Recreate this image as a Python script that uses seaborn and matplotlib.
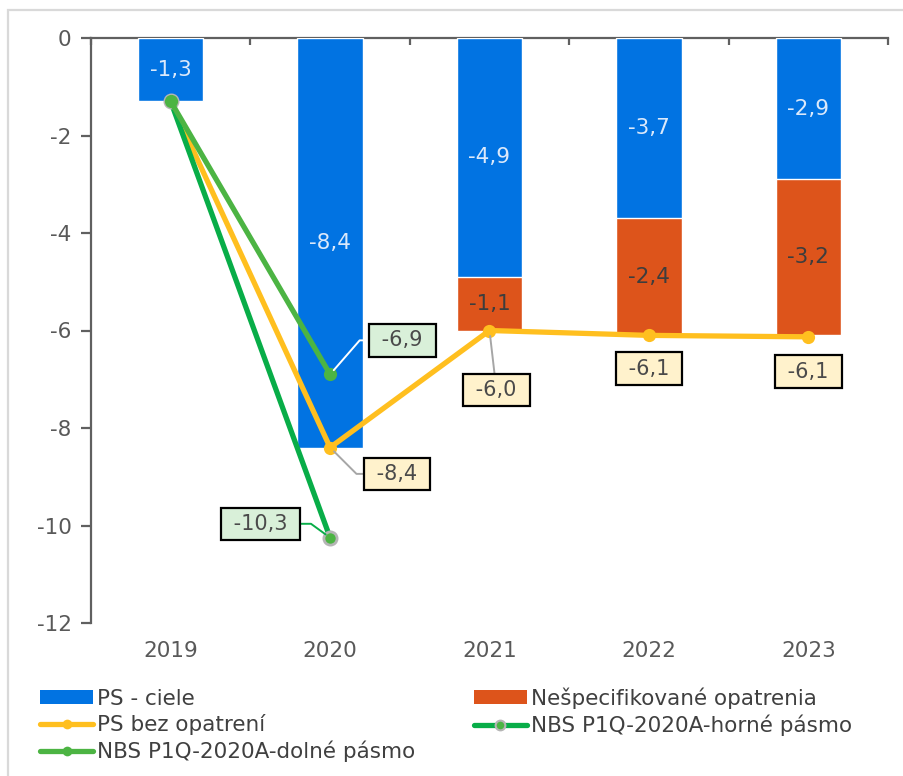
import matplotlib
matplotlib.use("Agg")
import matplotlib.pyplot as plt
from matplotlib.patches import Rectangle, Patch
from matplotlib.lines import Line2D
import seaborn as sns
import pandas as pd
import numpy as np

# Data
years = ["2019", "2020", "2021", "2022", "2023"]
ps_ciele = [-1.3, -8.4, -4.9, -3.7, -2.9]
nespecifikovane = [0.0, 0.0, -1.1, -2.4, -3.2]
ps_bez_opatreni = [-1.3, -8.4, -6.0, -6.1, -6.13]
nbs_horne = [-1.3, -10.25]
nbs_dolne = [-1.3, -6.9]

# Colours
c_blue = "#0173e2"
c_orange = "#dd541b"
c_yellow = "#ffbf1f"
c_green_dark = "#08ad48"
c_green_light = "#4cb443"
c_text = "#595959"

FS = 15.5

sns.set_theme(style="white")
plt.rcParams["font.family"] = ["DejaVu Sans"]

fig = plt.figure(figsize=(9.04, 7.76), dpi=100)
ax = fig.add_axes([91 / 904, 1 - 623 / 776, (888 - 91) / 904, (623 - 38) / 776])

# light frame around the chart area
fig.patches.append(Rectangle((8 / 904, -0.05), 1.2, (776 - 10) / 776 + 0.05,
                             transform=fig.transFigure, fill=False,
                             edgecolor="#d9d9d9", linewidth=1.6, zorder=0))

df = pd.DataFrame({"year": years, "ciele": ps_ciele, "nesp": nespecifikovane})
df["total"] = df["ciele"] + df["nesp"]

# stacked bars: total (orange) underneath, blue segment on top
sns.barplot(data=df, x="year", y="total", color=c_orange, width=0.41,
            saturation=1, ax=ax, zorder=2)
sns.barplot(data=df, x="year", y="ciele", color=c_blue, width=0.41,
            saturation=1, ax=ax, zorder=3)

x_pos = np.arange(len(years))


def fmt(v):
    return f"{v:.1f}".replace(".", ",")


# segment labels
for i in range(len(years)):
    ax.text(x_pos[i], ps_ciele[i] / 2, fmt(ps_ciele[i]),
            ha="center", va="center", color="#dbe9fb", fontsize=FS, zorder=6)
    if nespecifikovane[i] != 0:
        mid = ps_ciele[i] + nespecifikovane[i] / 2
        ax.text(x_pos[i], mid, fmt(nespecifikovane[i]),
                ha="center", va="center", color="#3d3d3d", fontsize=FS, zorder=6)

# lines
lw = 3.8
ms = 9.5
sns.lineplot(x=x_pos, y=ps_bez_opatreni, color=c_yellow, linewidth=lw,
             marker="o", markersize=ms, markeredgewidth=0, ax=ax, zorder=7)
sns.lineplot(x=x_pos[:2], y=nbs_horne, color=c_green_dark, linewidth=lw,
             marker="o", markersize=ms, markerfacecolor=c_green_light,
             markeredgecolor="#b5b5b5", markeredgewidth=2, ax=ax, zorder=8)
sns.lineplot(x=x_pos[:2], y=nbs_dolne, color=c_green_light, linewidth=lw,
             marker="o", markersize=ms, markeredgewidth=0, ax=ax, zorder=9)

# callout boxes
box_y = dict(boxstyle="square,pad=0.3", fc="#fff2cc", ec="black", lw=1.6)
box_g = dict(boxstyle="square,pad=0.3", fc="#d9f0d9", ec="black", lw=1.6)


def callout(x, y, label, dx, dy, box, leader=None, conn="arc3"):
    props = None
    if leader is not None:
        props = dict(arrowstyle="-", color=leader, lw=1.4, shrinkA=0,
                     shrinkB=4, connectionstyle=conn)
    ax.annotate(" " + fmt(label) + " ", xy=(x, y), xytext=(dx, dy),
                textcoords="offset points", ha="center", va="center",
                fontsize=FS - 0.5, color="#4a4a4a", bbox=box,
                arrowprops=props, zorder=10)


callout(x_pos[1], nbs_dolne[1], nbs_dolne[1], 52, 24.5, box_g, leader="white",
        conn="angle,angleA=0,angleB=49,rad=0")
callout(x_pos[1], ps_bez_opatreni[1], ps_bez_opatreni[1], 48, -19, box_y,
        leader="#a6a6a6", conn="angle,angleA=0,angleB=-45,rad=0")
callout(x_pos[1], nbs_horne[1], -10.3, -50, 10, box_g, leader=c_green_dark,
        conn="angle,angleA=0,angleB=-36,rad=0")
callout(x_pos[2], ps_bez_opatreni[2], ps_bez_opatreni[2], 5, -43, box_y,
        leader="#a6a6a6")
callout(x_pos[3], ps_bez_opatreni[3], ps_bez_opatreni[3], 0, -24, box_y)
callout(x_pos[4], ps_bez_opatreni[4], -6.1, 0, -25, box_y)

# axes styling
ax.set_ylim(-12, 0)
ax.set_xlim(-0.5, len(years) - 0.5)
ax.set_yticks(np.arange(-12, 1, 2))
ax.set_yticklabels([str(v) for v in np.arange(-12, 1, 2)])
ax.set_xlabel("")
ax.set_ylabel("")
for side in ["bottom", "right"]:
    ax.spines[side].set_visible(False)
for side in ["top", "left"]:
    ax.spines[side].set_visible(True)
    ax.spines[side].set_color("#606060")
    ax.spines[side].set_linewidth(1.6)
ax.tick_params(axis="y", which="major", left=True, length=7, width=1.6,
               color="#606060", labelcolor=c_text, labelsize=FS, pad=7,
               direction="out")
ax.tick_params(axis="x", which="major", bottom=False, top=False, length=0,
               labelcolor=c_text, labelsize=FS, pad=13)
ax.set_xticks(np.arange(-0.5, len(years), 1.0), minor=True)
ax.tick_params(axis="x", which="minor", top=True, bottom=False, direction="in",
               length=5, width=1.6, color="#606060")
ax.grid(False)

# legend
handles = [
    Patch(facecolor=c_blue, edgecolor="none"),
    Line2D([], [], color=c_yellow, lw=lw, marker="o", markersize=7, markeredgewidth=0),
    Line2D([], [], color=c_green_light, lw=lw, marker="o", markersize=7, markeredgewidth=0),
    Patch(facecolor=c_orange, edgecolor="none"),
    Line2D([], [], color=c_green_dark, lw=lw, marker="o", markersize=7,
           markerfacecolor=c_green_light, markeredgecolor="#b5b5b5", markeredgewidth=1.5),
]
labels = ["PS - ciele", "PS bez opatrení", "NBS P1Q-2020A-dolné pásmo",
          "Nešpecifikované opatrenia", "NBS P1Q-2020A-horné pásmo"]
leg = fig.legend(handles, labels, ncol=2, loc="upper left",
                 bbox_to_anchor=(21 / 904, 1 - 668 / 776), frameon=False,
                 fontsize=FS, handlelength=2.45, handleheight=0.6,
                 handletextpad=0.2, labelspacing=0.25, columnspacing=2.7)
for t in leg.get_texts():
    t.set_color("#404040")

fig.savefig("out.png", dpi=100)
